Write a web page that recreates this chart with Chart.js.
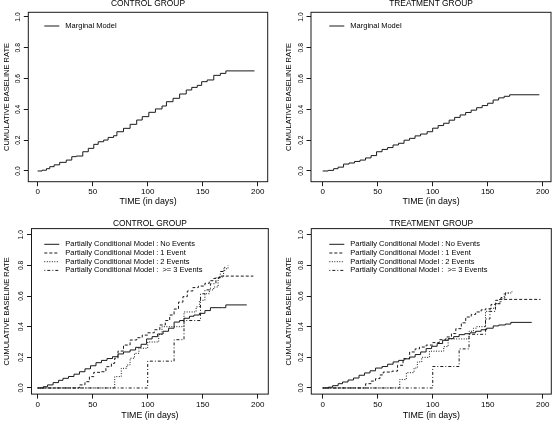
<!DOCTYPE html>
<html>
<head>
<meta charset="utf-8">
<script src="https://cdn.jsdelivr.net/npm/chart.js@4.4.1/dist/chart.umd.min.js"></script>
<style>
  body { margin: 0; background: #fff; }
  #wrap { position: relative; width: 553px; height: 424px; }
  canvas { position: absolute; }
</style>
</head>
<body>
<div id="wrap">
  <canvas id="ctrlTop" width="276" height="212" style="left:0;top:0"></canvas>
  <canvas id="trtTop" width="276" height="212" style="left:276px;top:0"></canvas>
  <canvas id="ctrlBot" width="276" height="212" style="left:0;top:212px"></canvas>
  <canvas id="trtBot" width="276" height="212" style="left:276px;top:212px"></canvas>
</div>
<script>
// axis ticks
const timeTicks = [0, 50, 100, 150, 200];
const rateTicks = [0, 0.2, 0.4, 0.6, 0.8, 1.0];

// marginal model, control group
const ctrlMargDays = [0, 4, 8, 11, 15, 20, 26, 31, 35, 41, 46, 51, 55, 60, 64, 69, 72, 78, 84, 90, 95, 101, 107, 113, 117, 123, 129, 135, 140, 145, 149, 154, 160, 166, 171, 197];
const ctrlMargRate = [0, 0.005, 0.015, 0.028, 0.04, 0.056, 0.071, 0.093, 0.097, 0.125, 0.147, 0.173, 0.19, 0.201, 0.218, 0.229, 0.255, 0.277, 0.303, 0.331, 0.353, 0.381, 0.403, 0.422, 0.45, 0.472, 0.5, 0.526, 0.543, 0.556, 0.58, 0.591, 0.621, 0.634, 0.65, 0.65];

// marginal model, treatment group
const trtMargDays = [0, 5, 10, 14, 19, 24, 29, 34, 39, 44, 49, 54, 59, 64, 69, 74, 79, 84, 89, 95, 100, 105, 110, 115, 120, 125, 130, 135, 140, 145, 150, 155, 160, 165, 170, 197];
const trtMargRate = [0, 0.004, 0.015, 0.025, 0.045, 0.052, 0.062, 0.071, 0.085, 0.1, 0.125, 0.14, 0.152, 0.169, 0.18, 0.2, 0.212, 0.228, 0.24, 0.255, 0.278, 0.295, 0.31, 0.33, 0.348, 0.364, 0.38, 0.395, 0.411, 0.425, 0.44, 0.461, 0.475, 0.485, 0.495, 0.495];

// partially conditional model, control group
const ctrl0Days = [0, 5, 9, 14, 19, 23, 28, 33, 38, 43, 48, 53, 58, 63, 68, 73, 78, 84, 89, 94, 99, 104, 109, 114, 119, 124, 129, 133, 138, 142, 147, 152, 157, 163, 168, 171, 190];
const ctrl0Rate = [0, 0.008, 0.02, 0.035, 0.05, 0.063, 0.075, 0.09, 0.106, 0.125, 0.145, 0.165, 0.18, 0.192, 0.204, 0.222, 0.235, 0.248, 0.265, 0.285, 0.32, 0.335, 0.352, 0.37, 0.39, 0.43, 0.44, 0.455, 0.468, 0.476, 0.487, 0.505, 0.524, 0.524, 0.524, 0.542, 0.542];
const ctrl1Days = [0, 38, 43, 47, 51, 58, 62, 67, 70, 73, 78, 84, 90, 95, 100, 106, 111, 116, 120, 124, 128, 132, 136, 141, 146, 152, 156, 160, 165, 196];
const ctrl1Rate = [0, 0.02, 0.041, 0.074, 0.102, 0.106, 0.139, 0.161, 0.194, 0.241, 0.28, 0.313, 0.328, 0.345, 0.36, 0.38, 0.411, 0.44, 0.476, 0.515, 0.56, 0.596, 0.633, 0.655, 0.665, 0.683, 0.7, 0.715, 0.73, 0.73];
const ctrl2Days = [0, 70, 76, 81, 84, 88, 92, 100, 110, 113, 133, 144, 147, 152, 156, 160, 164, 169, 173];
const ctrl2Rate = [0, 0.074, 0.128, 0.15, 0.194, 0.226, 0.259, 0.3, 0.35, 0.4, 0.496, 0.53, 0.572, 0.615, 0.64, 0.659, 0.724, 0.778, 0.8];
const ctrl3Days = [0, 100, 124, 133, 148, 152, 157, 162, 166, 170];
const ctrl3Rate = [0, 0.175, 0.315, 0.44, 0.615, 0.64, 0.68, 0.72, 0.76, 0.79];

// partially conditional model, treatment group
const trt0Days = [0, 5, 9, 14, 18, 23, 28, 33, 38, 43, 48, 54, 59, 64, 69, 74, 79, 84, 89, 94, 99, 104, 109, 114, 119, 124, 129, 134, 139, 144, 149, 155, 160, 166, 171, 190];
const trt0Rate = [0, 0.005, 0.015, 0.028, 0.039, 0.052, 0.065, 0.083, 0.098, 0.112, 0.13, 0.14, 0.155, 0.17, 0.18, 0.19, 0.202, 0.218, 0.235, 0.257, 0.272, 0.29, 0.311, 0.322, 0.335, 0.348, 0.354, 0.36, 0.37, 0.38, 0.39, 0.405, 0.411, 0.417, 0.428, 0.428];
const trt1Days = [0, 39, 44, 48, 52, 55, 63, 68, 73, 79, 84, 88, 94, 100, 106, 112, 117, 121, 126, 130, 135, 139, 144, 148, 153, 157, 161, 198];
const trt1Rate = [0, 0.028, 0.045, 0.061, 0.085, 0.104, 0.11, 0.148, 0.191, 0.235, 0.255, 0.267, 0.28, 0.296, 0.315, 0.333, 0.355, 0.387, 0.425, 0.463, 0.48, 0.496, 0.51, 0.517, 0.545, 0.572, 0.578, 0.578];
const trt2Days = [0, 70, 76, 83, 86, 90, 97, 110, 114, 133, 137, 140, 148, 152, 157, 161, 165, 172];
const trt2Rate = [0, 0.055, 0.1, 0.13, 0.17, 0.2, 0.24, 0.27, 0.32, 0.37, 0.39, 0.4, 0.5, 0.52, 0.55, 0.58, 0.62, 0.63];
const trt3Days = [0, 100, 124, 133, 148, 152, 157, 162, 166, 170];
const trt3Rate = [0, 0.14, 0.255, 0.35, 0.45, 0.5, 0.55, 0.59, 0.62, 0.625];

const margLabel = 'Marginal Model';
const pcLabels = [
  'Partially Conditional Model : No Events',
  'Partially Conditional Model : 1 Event',
  'Partially Conditional Model : 2 Events',
  'Partially Conditional Model :  >= 3 Events'
];
const dashes = [[], [3, 2], [1, 1.5], [1, 2, 3, 2]];

const FONT = '"Liberation Sans", Arial, Helvetica, sans-serif';
Chart.defaults.font.family = FONT;
Chart.defaults.color = '#000';

function pts(days, rate) {
  return days.map((d, i) => ({ x: d, y: rate[i] }));
}

function series(label, days, rate, dash) {
  return {
    label, data: pts(days, rate),
    borderColor: '#1a1a1a', borderWidth: 1, borderDash: dash,
    pointRadius: 0, stepped: true, fill: false
  };
}

// box, title and legend drawn the way R draws them
const decor = {
  id: 'decor',
  afterDraw(chart, args, o) {
    const { ctx, chartArea: a } = chart;
    ctx.save();
    ctx.strokeStyle = '#1a1a1a';
    ctx.lineWidth = 1;
    ctx.setLineDash([]);
    ctx.strokeRect(a.left, a.top, a.right - a.left, a.bottom - a.top);
    ctx.fillStyle = '#000';
    ctx.textBaseline = 'middle';
    ctx.textAlign = 'center';
    ctx.font = '8.4px ' + FONT;
    ctx.fillText(o.title, (a.left + a.right) / 2, o.titleY);
    ctx.textAlign = 'left';
    ctx.font = '7.5px ' + FONT;
    chart.data.datasets.forEach((ds, i) => {
      const y = o.legendY + i * o.legendStep;
      ctx.setLineDash(ds.borderDash || []);
      ctx.beginPath();
      ctx.moveTo(o.lineX0, y);
      ctx.lineTo(o.lineX1, y);
      ctx.stroke();
      ctx.fillText(ds.label, o.textX, y);
    });
    ctx.restore();
  }
};

function panel(id, p, datasets) {
  const W = 276, H = 212;
  const tickGrid = { drawOnChartArea: false, drawTicks: true, tickLength: 4.5, color: '#1a1a1a' };
  return new Chart(document.getElementById(id), {
    type: 'line',
    data: { datasets },
    plugins: [decor],
    options: {
      responsive: false,
      animation: false,
      devicePixelRatio: 1,
      layout: { padding: { left: 0, top: p.T, right: W - p.R, bottom: 0 } },
      plugins: {
        legend: { display: false },
        tooltip: { enabled: false },
        decor: {
          title: p.title, titleY: p.titleY,
          legendY: p.legendY, legendStep: 8.7,
          lineX0: p.lineX0, lineX1: p.lineX0 + 15, textX: p.lineX0 + 21
        }
      },
      scales: {
        x: {
          type: 'linear', min: p.xMin, max: p.xMax,
          afterFit: s => { s.height = H - p.B; },
          afterBuildTicks: s => { s.ticks = timeTicks.map(v => ({ value: v })); },
          grid: tickGrid,
          border: { display: false },
          ticks: { font: { size: 8 }, padding: 1, maxRotation: 0, callback: v => String(v) },
          title: { display: true, text: 'TIME (in days)', font: { size: 8.8 }, padding: { top: 0, bottom: p.xTitlePad } }
        },
        y: {
          min: p.yMin, max: p.yMax,
          afterFit: s => { s.width = p.L; },
          afterBuildTicks: s => { s.ticks = rateTicks.map(v => ({ value: v })); },
          grid: tickGrid,
          border: { display: false },
          ticks: { font: { size: 6.7 }, minRotation: 90, maxRotation: 90, crossAlign: 'center', padding: 1.2, callback: v => v.toFixed(1) },
          title: { display: true, text: 'CUMULATIVE BASELINE RATE', font: { size: 7.5 }, padding: { top: p.yTitlePad, bottom: 0 } }
        }
      }
    }
  });
}

const topY = { T: 12.3, B: 181.7, yMin: -0.0695, yMax: 1.0305, titleY: 4, legendY: 26, xTitlePad: 5 };
const botY = { T: 16.6, B: 182.1, yMin: -0.04, yMax: 1.04, titleY: 11.7, legendY: 32.3, xTitlePad: 3.4 };

panel('ctrlTop', Object.assign({ L: 28.3, R: 267.7, xMin: -8.5, xMax: 209, title: 'CONTROL GROUP', lineX0: 44.3, yTitlePad: 2.2 }, topY), [
  series(margLabel, ctrlMargDays, ctrlMargRate, dashes[0])
]);
panel('trtTop', Object.assign({ L: 35, R: 275, xMin: -10.6, xMax: 207.6, title: 'TREATMENT GROUP', lineX0: 53.3, yTitlePad: 8.8 }, topY), [
  series(margLabel, trtMargDays, trtMargRate, dashes[0])
]);
panel('ctrlBot', Object.assign({ L: 31.5, R: 268.3, xMin: -5.6, xMax: 209.6, title: 'CONTROL GROUP', lineX0: 44.3, yTitlePad: 2.2 }, botY), [
  series(pcLabels[0], ctrl0Days, ctrl0Rate, dashes[0]),
  series(pcLabels[1], ctrl1Days, ctrl1Rate, dashes[1]),
  series(pcLabels[2], ctrl2Days, ctrl2Rate, dashes[2]),
  series(pcLabels[3], ctrl3Days, ctrl3Rate, dashes[3])
]);
panel('trtBot', Object.assign({ L: 35.3, R: 275.3, xMin: -10.4, xMax: 207.8, title: 'TREATMENT GROUP', lineX0: 53.3, yTitlePad: 8.8 }, botY), [
  series(pcLabels[0], trt0Days, trt0Rate, dashes[0]),
  series(pcLabels[1], trt1Days, trt1Rate, dashes[1]),
  series(pcLabels[2], trt2Days, trt2Rate, dashes[2]),
  series(pcLabels[3], trt3Days, trt3Rate, dashes[3])
]);
</script>
</body>
</html>
